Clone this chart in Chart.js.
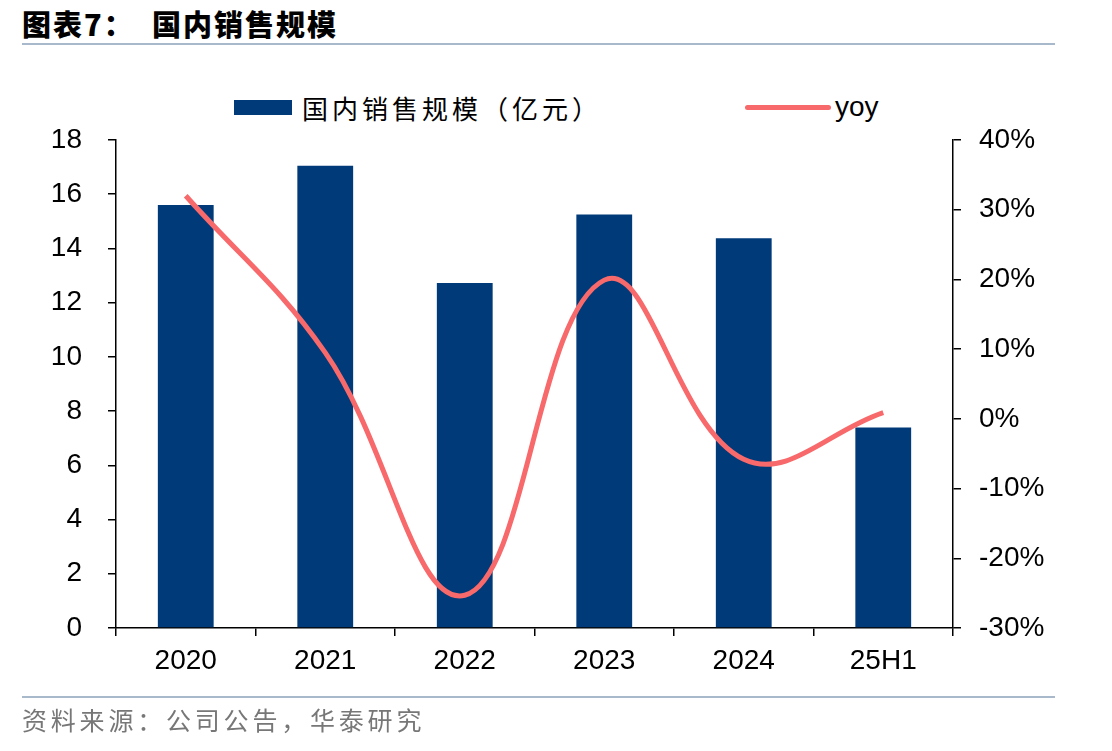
<!DOCTYPE html>
<html>
<head>
<meta charset="utf-8">
<script src="https://cdn.jsdelivr.net/npm/chart.js@4"></script>
<style>
    body { margin: 0; background: #fff; width: 1112px; height: 751px; position: relative; overflow: hidden; }
    #title { position: absolute; left: 22px; top: 2px; font-family: "Noto Sans CJK SC", sans-serif; font-weight: 900; font-size: 29px; letter-spacing: 2px; color: #000; }
    .rule { position: absolute; left: 22px; width: 1033px; height: 2px; background: #a9b9cc; }
    #source { position: absolute; left: 22px; top: 701px; font-family: "Noto Sans CJK SC", sans-serif; font-size: 25px; color: #777; letter-spacing: 3.8px; }
    .legend { position: absolute; top: 90px; display: flex; align-items: center; height: 34px; }
    .legend .bar { width: 58px; height: 15px; background: #003a78; margin-right: 10px; }
    .legend .line { width: 86px; height: 5px; border-radius: 3px; background: #f7696a; margin-right: 4px; }
    .cjk { font-family: "Noto Sans CJK SC", sans-serif; font-size: 26px; letter-spacing: 4px; }
    .latin { font-family: "Liberation Sans", Arial, sans-serif; font-size: 28px; }
    canvas { position: absolute; left: 0; top: 0; }
</style>
</head>
<body>
<div id="title">图表7：&nbsp;&nbsp;国内销售规模</div>
<div class="rule" style="top:43px"></div>
<div class="legend" style="left:234px"><div class="bar"></div><span class="cjk">国内销售规模（亿元）</span></div>
<div class="legend" style="left:745px"><div class="line"></div><span class="latin">yoy</span></div>
<canvas id="chart" width="1112" height="751"></canvas>
<div class="rule" style="top:696px"></div>
<div id="source">资料来源：公司公告，华泰研究</div>
<script>
// data
const categories = ['2020', '2021', '2022', '2023', '2024', '25H1'];
const salesValues = [15.6, 17.05, 12.73, 15.25, 14.38, 7.4];
const yoyValues = [0.32, 0.095, -0.253, 0.199, -0.058, 0.009];
const leftTicks = [0, 2, 4, 6, 8, 10, 12, 14, 16, 18];
const rightTicks = [-0.3, -0.2, -0.1, 0, 0.1, 0.2, 0.3, 0.4];

document.addEventListener('DOMContentLoaded', function() {
    const tickFont = { family: '"Liberation Sans", Arial, sans-serif', size: 28 };
    const ctx = document.getElementById('chart').getContext('2d');

    new Chart(ctx, {
        data: {
            labels: categories,
            datasets: [
                {
                    type: 'line',
                    label: 'yoy',
                    data: yoyValues,
                    yAxisID: 'y1',
                    borderColor: '#f7696a',
                    borderWidth: 5,
                    pointRadius: 0,
                    tension: 0.4,
                    order: 0
                },
                {
                    type: 'bar',
                    label: '国内销售规模（亿元）',
                    data: salesValues,
                    yAxisID: 'y',
                    backgroundColor: '#003a78',
                    barPercentage: 0.4,
                    categoryPercentage: 1,
                    order: 1
                }
            ]
        },
        options: {
            responsive: false,
            animation: false,
            layout: { padding: { top: 140, left: 0, right: 0, bottom: 0 } },
            plugins: { legend: { display: false }, tooltip: { enabled: false } },
            scales: {
                x: {
                    offset: true,
                    grid: { offset: true, drawOnChartArea: false, drawTicks: true, tickLength: 8, color: '#000', lineWidth: 1.5 },
                    border: { display: true, color: '#000', width: 1.5 },
                    ticks: { color: '#000', font: tickFont, padding: 8, maxRotation: 0 },
                    afterFit: function(scale) { scale.height = 123; }
                },
                y: {
                    position: 'left',
                    min: 0,
                    max: 18,
                    afterBuildTicks: function(scale) { scale.ticks = leftTicks.map(v => ({ value: v })); },
                    grid: { drawOnChartArea: false, drawTicks: true, tickLength: 8, color: '#000', lineWidth: 1.5 },
                    border: { display: true, color: '#000', width: 1.5 },
                    ticks: { color: '#000', font: tickFont, padding: 26 },
                    afterFit: function(scale) { scale.width = 116; }
                },
                y1: {
                    position: 'right',
                    min: -0.3,
                    max: 0.4,
                    afterBuildTicks: function(scale) { scale.ticks = rightTicks.map(v => ({ value: v })); },
                    grid: { drawOnChartArea: false, drawTicks: true, tickLength: 8, color: '#000', lineWidth: 1.5 },
                    border: { display: true, color: '#000', width: 1.5 },
                    ticks: {
                        color: '#000',
                        font: tickFont,
                        padding: 18,
                        callback: function(value) { return Math.round(value * 100) + '%'; }
                    },
                    afterFit: function(scale) { scale.width = 159; }
                }
            }
        }
    });
});
</script>
</body>
</html>
